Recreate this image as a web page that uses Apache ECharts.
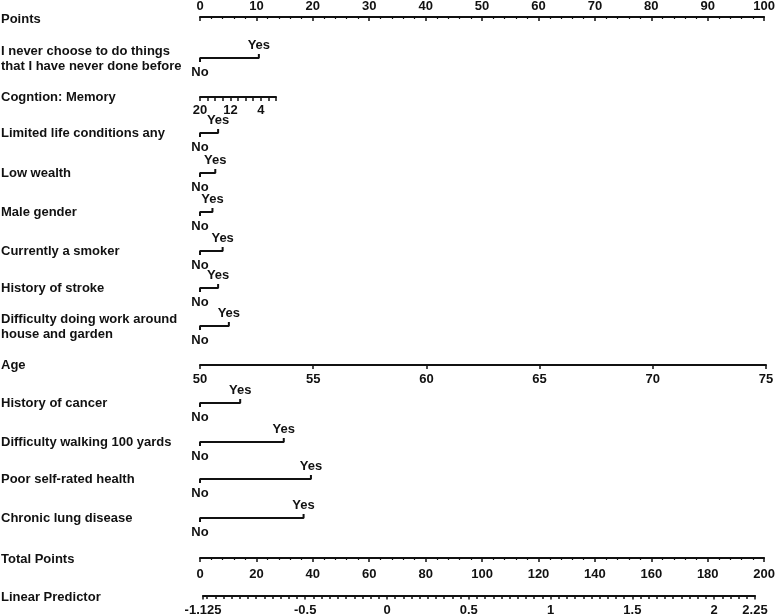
<!DOCTYPE html>
<html>
<head>
<meta charset="utf-8">
<script src="https://cdn.jsdelivr.net/npm/echarts@6/dist/echarts.min.js"></script>
<style>
  html, body { margin: 0; padding: 0; background: #fff; }
  #nomo { width: 778px; height: 616px; }
</style>
</head>
<body>
<div id="nomo"></div>
<script>
// binary predictors and the points given for "Yes" (No = 0)
var rowNames = [
  'I never choose to do things\nthat I have never done before',
  'Limited life conditions any',
  'Low wealth',
  'Male gender',
  'Currently a smoker',
  'History of stroke',
  'Difficulty doing work around\nhouse and garden',
  'History of cancer',
  'Difficulty walking 100 yards',
  'Poor self-rated health',
  'Chronic lung disease'
];
var yesPoints = [10.4, 3.2, 2.7, 2.2, 4.0, 3.2, 5.1, 7.1, 14.8, 19.6, 18.3];

// scale axes
var memoryLabels = [20, 12, 4];
var lpLabels = [-1.125, -0.5, 0, 0.5, 1, 1.5, 2, 2.25];
var lpMinorStep = 0.05;

// layout (pixel rows)
var rowY = [58, 133, 173, 212, 251, 288, 326, 403, 442, 479, 518];
var axisY = { points: 16, memory: 97, age: 365, total: 558, lp: 597 };
var LEFT = 200, WIDTH = 566;
var INK = '#111';
var FONT = 'Liberation Sans';
var FSIZE = 13;

var chart = echarts.init(document.getElementById('nomo'));

var grids = [], xAxes = [], yAxes = [], series = [], graphics = [];

function labelText(text, y) {
  graphics.push({
    type: 'text', x: 1, y: y,
    style: { text: text, fill: INK, font: 'bold ' + FSIZE + 'px "' + FONT + '"', verticalAlign: 'middle', lineHeight: 15 }
  });
}

function scaleAxis(opt) {
  var g = grids.length;
  grids.push({ left: opt.left || LEFT, width: opt.width || WIDTH, top: opt.top, height: 2 });
  yAxes.push({ gridIndex: g, show: false, min: -1, max: 1 });
  var ax = {
    gridIndex: g, type: 'value', position: opt.position || 'bottom',
    min: opt.min, max: opt.max, inverse: !!opt.inverse,
    axisLine: { show: opt.line !== false, onZero: false, lineStyle: { color: INK, width: 2 } },
    axisTick: { show: true, inside: !!opt.tickInside, length: opt.tickLen || 4, lineStyle: { color: INK, width: 1.5 } },
    axisLabel: { show: opt.labels !== false, color: INK, fontWeight: 'bold', fontSize: FSIZE, fontFamily: FONT, margin: opt.margin || 7 },
    splitLine: { show: false }
  };
  if (opt.interval != null) { ax.interval = opt.interval; }
  if (opt.minor) {
    ax.minorTick = { show: true, splitNumber: opt.minor, length: 2, lineStyle: { color: INK, width: 1.2 } };
  }
  if (opt.labelFmt) { ax.axisLabel.formatter = opt.labelFmt; }
  if (opt.tickValues) { ax.axisTick.customValues = opt.tickValues; }
  if (opt.labelValues) { ax.axisLabel.customValues = opt.labelValues; }
  xAxes.push(ax);
}

// Points (top)
scaleAxis({ top: axisY.points, position: 'top', min: 0, max: 100, interval: 10, minor: 5, tickInside: true, margin: 4 });
labelText('Points', axisY.points + 3);

// Cognition: memory
scaleAxis({
  top: axisY.memory - 2, width: 76, min: 0, max: 20, inverse: true, interval: 2, tickLen: 4, margin: 7,
  labelFmt: function (v) { return memoryLabels.indexOf(v) >= 0 ? String(v) : ''; }
});
labelText('Cogntion: Memory', axisY.memory);

// Age
scaleAxis({ top: axisY.age - 2, min: 50, max: 75, interval: 5, margin: 8 });
labelText('Age', axisY.age);

// Total points
scaleAxis({ top: axisY.total - 2, min: 0, max: 200, interval: 20, minor: 5, margin: 10 });
labelText('Total Points', axisY.total + 1);

// Linear predictor (major + minor ticks as two overlaid axes)
var lpMinor = [];
for (var v = -1.1; v <= 2.25 + 1e-9; v += lpMinorStep) {
  var r = Math.round(v * 100) / 100;
  if (lpLabels.indexOf(r) < 0) { lpMinor.push(r); }
}
scaleAxis({ top: axisY.lp - 2, left: 203, width: 552, min: -1.125, max: 2.25, margin: 8,
  tickValues: lpLabels, labelValues: lpLabels });
scaleAxis({ top: axisY.lp - 2, left: 203, width: 552, min: -1.125, max: 2.25, line: false, labels: false,
  tickLen: 2, tickValues: lpMinor });
labelText('Linear Predictor', axisY.lp);

// binary rows
rowNames.forEach(function (name, i) {
  var g = grids.length;
  grids.push({ left: LEFT, width: WIDTH, top: rowY[i] - 10, height: 20 });
  xAxes.push({ gridIndex: g, type: 'value', min: 0, max: 100, show: false });
  yAxes.push({ gridIndex: g, type: 'value', min: -1, max: 1, show: false });
  var p = yesPoints[i];
  series.push({
    type: 'line', xAxisIndex: g, yAxisIndex: g, symbol: 'none', silent: true,
    lineStyle: { color: INK, width: 2 },
    data: [[0, -0.4], [0, 0], [p, 0], [p, 0.4]]
  });
  series.push({
    type: 'scatter', xAxisIndex: g, yAxisIndex: g, symbolSize: 0, silent: true,
    itemStyle: { opacity: 1 },
    data: [
      { value: [0, 0], label: { formatter: 'No', position: 'bottom', distance: 8 } },
      { value: [p, 0], label: { formatter: 'Yes', position: 'top', distance: 6 } }
    ],
    label: { show: true, color: INK, fontWeight: 'bold', fontSize: FSIZE, fontFamily: FONT }
  });
  labelText(name, rowY[i] + (name.indexOf('\n') >= 0 ? 1 : 0));
});

var option = {
  backgroundColor: '#fff',
  animation: false,
  grid: grids,
  xAxis: xAxes,
  yAxis: yAxes,
  series: series,
  graphic: graphics
};

option && chart.setOption(option);
</script>
</body>
</html>
